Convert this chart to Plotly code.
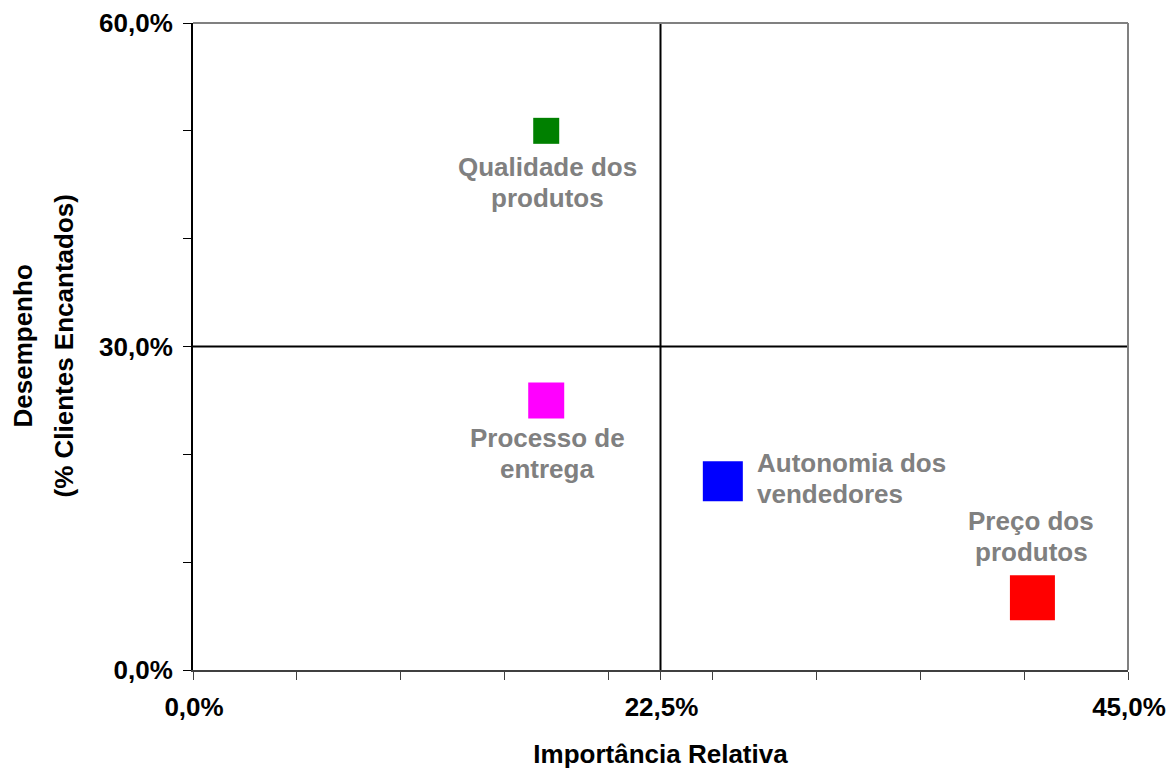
import plotly.graph_objects as go

# Data
categories = ["Qualidade dos<br>produtos", "Processo de<br>entrega", "Autonomia dos<br>vendedores", "Preço dos<br>produtos"]
importancia = [17.0, 17.0, 25.5, 40.4]       # x, %
desempenho = [50.0, 25.0, 17.5, 6.7]         # y, %
colors = ["#008000", "#FF00FF", "#0000FF", "#FF0000"]
marker_sizes = [26, 36, 40, 45]
x_split = 22.5
y_split = 30.0
x_tickvals = [0, 5, 10, 15, 20, 22.5, 25, 30, 35, 40, 45]
x_ticktext = ["0,0%", "", "", "", "", "22,5%", "", "", "", "", "45,0%"]
y_tickvals = [0, 10, 20, 30, 40, 50, 60]
y_ticktext = ["0,0%", "", "", "30,0%", "", "", "60,0%"]
x_title = "Importância Relativa"
y_title_lines = ["Desempenho", "(% Clientes Encantados)"]

FONT = "Liberation Sans, Arial, sans-serif"
GRAY = "#808080"

fig = go.Figure()
fig.add_trace(go.Scatter(
    x=importancia, y=desempenho, mode="markers",
    marker=dict(symbol="square", size=marker_sizes, color=colors, opacity=1, line=dict(width=0)),
    hoverinfo="skip", showlegend=False,
))

# quadrant lines
fig.add_shape(type="line", xref="x", yref="y", x0=x_split, x1=x_split, y0=0, y1=60,
              line=dict(color="black", width=2), layer="below")
fig.add_shape(type="line", xref="x", yref="y", x0=0, x1=45, y0=y_split, y1=y_split,
              line=dict(color="black", width=2), layer="below")
# top and right border
fig.add_shape(type="line", xref="paper", yref="paper", x0=0, x1=1, y0=1, y1=1,
              line=dict(color=GRAY, width=2))
fig.add_shape(type="line", xref="paper", yref="paper", x0=1, x1=1, y0=0, y1=1,
              line=dict(color=GRAY, width=2))

# labels: (anchor, xshift, first-line offset below marker centre in px)
LINE_GAP = 31
label_pos = [
    ("center", 1, 36),
    ("center", 1, 38),
    ("left", 32, -18),
    ("center", -1, -77),
]
for xi, yi, t, (anchor, xs, off) in zip(importancia, desempenho, categories, label_pos):
    for i, line in enumerate(t.split("<br>")):
        fig.add_annotation(x=xi, y=yi, text=line, showarrow=False,
                           xanchor=anchor, yanchor="middle",
                           xshift=xs, yshift=-(off + i * LINE_GAP),
                           font=dict(family=FONT, size=26, color=GRAY, weight="bold"))

# y axis title (two rotated lines)
for line, xs in zip(y_title_lines, [-171, -130]):
    fig.add_annotation(xref="paper", yref="paper", x=0, y=0.5, text=line, showarrow=False,
                       textangle=-90, xanchor="center", yanchor="middle", xshift=xs,
                       font=dict(family=FONT, size=26, color="black", weight="bold"))

fig.update_layout(
    width=1169, height=769,
    margin=dict(l=193, r=41, t=23, b=99),
    paper_bgcolor="white", plot_bgcolor="white",
    font=dict(family=FONT, color="black"),
    xaxis=dict(
        range=[0, 45], tickvals=x_tickvals, ticktext=x_ticktext,
        ticks="outside", ticklen=8, tickcolor="#404040", tickwidth=1,
        showline=True, linecolor="#404040", linewidth=2,
        showgrid=False, zeroline=False, ticklabelstandoff=5, ticklabelshift=1,
        ticklabeloverflow="allow",
        automargin=False,
        tickfont=dict(family=FONT, size=26, color="black", weight="bold"),
        title=dict(text=x_title, standoff=27,
                   font=dict(family=FONT, size=26, color="black", weight="bold")),
    ),
    yaxis=dict(
        range=[0, 60], tickvals=y_tickvals, ticktext=y_ticktext,
        ticks="outside", ticklen=8, tickcolor="black", tickwidth=1,
        showline=True, linecolor="black", linewidth=2,
        showgrid=False, zeroline=False, ticklabelstandoff=5,
        automargin=False,
        tickfont=dict(family=FONT, size=26, color="black", weight="bold"),
    ),
)

fig.write_html("out.html")
